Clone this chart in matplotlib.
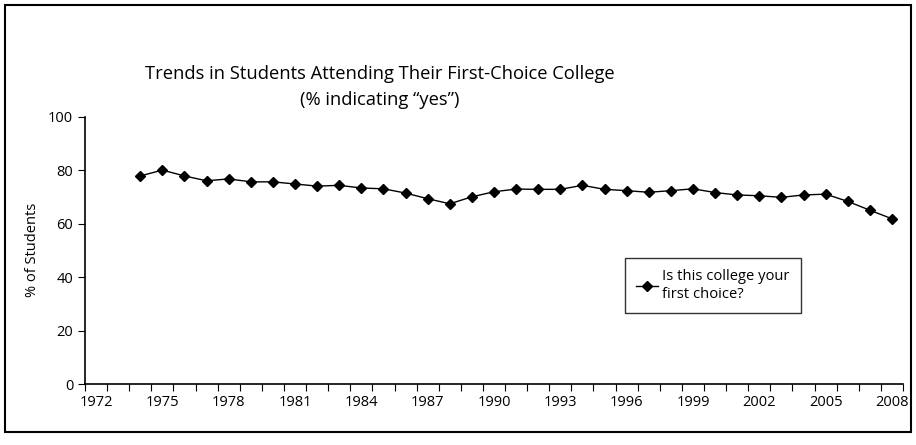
import matplotlib.pyplot as plt
from matplotlib.patches import Rectangle

plt.rcParams['font.family'] = ['Open Sans', 'DejaVu Sans']

# Survey years and share answering "yes"
years = list(range(1974, 2009))
pct_yes = [77.8, 80.0, 77.8, 76.0, 76.7, 75.6, 75.6, 74.8, 74.0, 74.3,
           73.3, 73.0, 71.4, 69.3, 67.4, 70.0, 71.9, 72.9, 72.8, 72.8,
           74.3, 72.8, 72.3, 71.7, 72.3, 73.0, 71.6, 70.7, 70.4, 69.8,
           70.7, 71.0, 68.3, 65.0, 61.8]
year_labels = list(range(1972, 2009, 3))
y_ticks = [0, 20, 40, 60, 80, 100]

fig = plt.figure(figsize=(9.16, 4.45), dpi=100)
ax = fig.add_axes([0.0928, 0.137, 0.893, 0.601])

ax.plot(years, pct_yes, color='black', lw=1, marker='D', ms=5.5,
        label='Is this college your\nfirst choice?')

# category style axis: tick marks between years, labels centred on slots
ax.set_xlim(1971.5, 2008.5)
ax.set_xticks(year_labels)
ax.set_xticklabels([str(y) for y in year_labels], fontsize=10.5)
ax.tick_params(axis='x', which='major', length=0, pad=8)
ax.set_xticks([y + 0.5 for y in range(1971, 2009)], minor=True)
ax.tick_params(axis='x', which='minor', length=5, width=0.8, direction='out')

ax.set_ylim(0, 100)
ax.set_yticks(y_ticks)
ax.set_yticklabels([str(v) for v in y_ticks], fontsize=10.5)
ax.tick_params(axis='y', length=5, width=0.8, direction='out')
ax.set_ylabel('% of Students', fontsize=10.5, labelpad=6)

for side in ['top', 'right']:
    ax.spines[side].set_visible(False)
for side in ['left', 'bottom']:
    ax.spines[side].set_linewidth(1.2)

leg = ax.legend(loc='upper left', bbox_to_anchor=(0.66, 0.47),
                fontsize=10.6, frameon=True, fancybox=False,
                handlelength=1.5, borderpad=0.75, handletextpad=0.3,
                labelspacing=0.2, borderaxespad=0)
leg.get_frame().set_edgecolor('black')
leg.get_frame().set_linewidth(1)

fig.text(0.415, 0.834, 'Trends in Students Attending Their First-Choice College',
         ha='center', va='center', fontsize=13.2)
fig.text(0.415, 0.775, '(% indicating \u201cyes\u201d)',
         ha='center', va='center', fontsize=13.2)

# outer frame around the whole chart
fig.patches.append(Rectangle((0.006, 0.03), 0.989, 0.958, transform=fig.transFigure,
                             fill=False, edgecolor='black', lw=1.5))

fig.savefig('out.png', dpi=100)
